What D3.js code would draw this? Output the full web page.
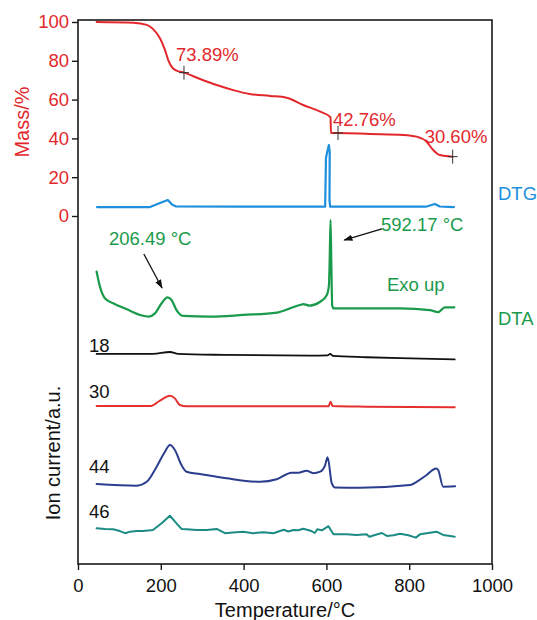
<!DOCTYPE html>
<html>
<head>
<meta charset="utf-8">
<script src="https://cdn.jsdelivr.net/npm/d3@7"></script>
<style>
  body { margin: 0; background: #fff; }
  svg { display: block; font-family: "Liberation Sans", Arial, Helvetica, sans-serif; }
</style>
</head>
<body>
<svg id="chart" width="537" height="620"></svg>
<script>
// ---- TG (mass loss) ----
const massT = [45, 134, 166, 182, 198, 210, 218, 226, 238, 256, 295, 335, 375, 415, 464, 504, 544, 585, 610, 611, 628, 705, 786, 818, 842, 858, 874, 905];
const massV = [100, 99.6, 98.5, 96.2, 91.6, 85.6, 80.4, 77.0, 74.9, 73.89, 70.6, 67.5, 64.9, 62.9, 61.9, 61.0, 57.2, 53.8, 50.9, 42.76, 42.76, 42.3, 41.8, 40.9, 38.3, 34.0, 31.4, 30.60];

// residual-mass readings marked on the TG curve
const stepT = [256, 628, 905];
const stepV = [73.89, 42.76, 30.60];

// ---- DTG ----
const dtgT = [46, 174, 198, 217, 227, 237, 400, 597, 599, 602, 606, 608, 607.5, 609, 640, 840, 862, 874, 908];
const dtgV = [4.6, 4.6, 6.7, 8.2, 5.9, 4.9, 4.8, 4.8, 30, 33, 36.6, 33, 8, 4.8, 4.8, 4.8, 6.2, 4.9, 4.6];

// ---- DTA (a.u., exo up) ----
const dtaT = [45, 53, 65, 85, 118, 150, 170, 186, 202, 216, 226, 238, 254, 319, 399, 480, 512, 536, 544, 560, 585, 601, 606, 608, 610, 612, 614, 617, 697, 778, 850, 870, 886, 909];
const dtaV = [21.3, 13.6, 7.6, 5.0, 1.9, -1.0, -1.9, -0.2, 5.0, 8.1, 6.7, 1.5, -1.5, -1.9, -1.0, 0.2, 2.4, 4.1, 4.6, 3.8, 5.8, 9.3, 14, 28, 47.9, 25, 4, 2.4, 2.4, 2.4, 1.5, 0.4, 2.9, 2.9];
const dtaPeaks = [206.49, 592.17];

// ---- MS ion currents (a.u.) ----
const ion18T = [45, 181, 222, 242, 359, 560, 603, 609, 616, 697, 778, 910];
const ion18V = [0.9, 0.9, 1.9, 0.9, 0.4, 0, 0.2, 0.9, -0.15, -0.8, -1.3, -1.9];

const ion30T = [45, 174, 198, 222, 234, 246, 262, 560, 605, 610, 615, 697, 910];
const ion30V = [0, 0, 2.8, 5.4, 4.0, 0.6, -0.1, -0.1, -0.1, 2.3, 0, -0.3, -0.6];

const ion44T = [45, 142, 166, 190, 210, 222, 234, 250, 262, 295, 359, 440, 480, 516, 532, 552, 568, 585, 597, 603, 613, 621, 681, 802, 818, 842, 865, 870, 882, 911];
const ion44V = [-0.15, -1.0, 1.0, 8.8, 16.5, 19.9, 17.4, 9.6, 6.2, 5.0, 2.8, 1.0, 2.3, 5.7, 5.7, 6.7, 5.4, 6.2, 9.6, 13.6, 0.2, -1.9, -2.1, -0.7, 1.0, 4.5, 7.9, 7.1, -1.5, -1.3];

const ion46T = [45, 65, 85, 101, 114, 126, 142, 157, 181, 202, 222, 238, 250, 262, 287, 311, 335, 355, 374, 399, 423, 448, 472, 497, 508, 520, 532, 544, 564, 572, 578, 589, 605, 617, 649, 673, 697, 704, 717, 734, 746, 762, 778, 798, 816, 826, 842, 866, 882, 899, 910];
const ion46V = [1.0, 0.7, 0.5, -0.4, -1.5, -0.7, -0.4, -0.4, 0.15, 3.6, 7.5, 3.6, 0.7, 0.5, 0.15, 0.15, 0.7, -1.5, -1.2, -0.7, -1.5, -1.0, -1.5, 0.3, -0.6, 0.15, 0, 0.8, -0.4, -1.4, 0.5, 0, 2.1, -2.1, -2.1, -2.4, -2.1, -3.3, -2.4, -1.4, -2.9, -2.6, -1.8, -2.6, -3.8, -2.1, -1.5, -0.7, -2.4, -2.9, -3.3];

// baselines of the stacked traces, in Mass/% units below the TG axis
const ionNames = ["18", "30", "44", "46"];
const ionOffsets = [-72, -98, -138, -162];
const dtaOffset = -50;

// axis ticks
const xMajor = d3.range(0, 1001, 200);
const xMinor = d3.range(0, 1001, 50);
const yMajor = d3.range(0, 101, 20);
const yMinor = d3.range(0, 101, 5);

const colors = {
  mass: "#e2282c",
  dtg: "#1d8fdc",
  dta: "#1a9a4b",
  ion: ["#111111", "#e5302f", "#2b3d8e", "#1b8b84"]
};

const svg = d3.select("#chart");
const plotL = 78, plotR = 492, plotT = 20, plotB = 564;

const x = d3.scaleLinear().domain([0, 1000]).range([plotL, plotR]);
const y = d3.scaleLinear().domain([0, 100]).range([216, 22]);

const zip = (T, V, off = 0) => T.map((t, i) => [t, V[i] + off]);
const smooth = d3.line().x(d => x(d[0])).y(d => y(d[1])).curve(d3.curveMonotoneX);
const straight = d3.line().x(d => x(d[0])).y(d => y(d[1]));

function trace(points, color, gen, width = 2) {
  svg.append("path")
    .attr("d", gen(points))
    .attr("fill", "none")
    .attr("stroke", color)
    .attr("stroke-width", width)
    .attr("stroke-linejoin", "round")
    .attr("stroke-linecap", "round");
}

// frame
svg.append("rect")
  .attr("x", plotL).attr("y", plotT)
  .attr("width", plotR - plotL).attr("height", plotB - plotT)
  .attr("fill", "none").attr("stroke", "#1a1a1a").attr("stroke-width", 1.6);

// bottom axis
const gx = svg.append("g").attr("transform", `translate(0,${plotB})`);
gx.call(d3.axisBottom(x).tickValues(xMinor).tickSize(3).tickFormat(""));
gx.call(d3.axisBottom(x).tickValues(xMajor).tickSize(6).tickPadding(9).tickFormat(d3.format("d")));
gx.selectAll(".domain").remove();
gx.selectAll("line").attr("stroke", "#1a1a1a").attr("stroke-width", 1.4);
gx.selectAll("text").attr("font-size", 18.5).attr("fill", "#111")
  .attr("font-family", "Liberation Sans, Arial, sans-serif");

svg.append("text")
  .attr("x", (plotL + plotR) / 2).attr("y", 617)
  .attr("text-anchor", "middle").attr("font-size", 20).attr("fill", "#111")
  .text("Temperature/°C");

// left (mass) axis
const gy = svg.append("g").attr("transform", `translate(${plotL},0)`);
gy.call(d3.axisLeft(y).tickValues(yMinor).tickSize(3).tickFormat(""));
gy.call(d3.axisLeft(y).tickValues(yMajor).tickSize(6).tickPadding(3).tickFormat(d3.format("d")));
gy.selectAll(".domain").remove();
gy.selectAll("line").attr("stroke", "#1a1a1a").attr("stroke-width", 1.4);
gy.selectAll("text").attr("font-size", 18.5).attr("fill", colors.mass)
  .attr("font-family", "Liberation Sans, Arial, sans-serif");

svg.append("text")
  .attr("transform", `translate(29,122) rotate(-90)`)
  .attr("text-anchor", "middle").attr("font-size", 20).attr("fill", colors.mass)
  .text("Mass/%");

svg.append("text")
  .attr("transform", `translate(60,453) rotate(-90)`)
  .attr("text-anchor", "middle").attr("font-size", 20).attr("fill", "#111")
  .text("Ion current/a.u.");

// TG curve
trace(zip(massT, massV), colors.mass, smooth);

// step markers and labels
const labelShift = [[-8, -12], [-5, -7], [-28, -14]];
stepT.forEach((t, i) => {
  const cx = x(t), cy = y(stepV[i]);
  svg.append("path")
    .attr("d", `M${cx - 5},${cy}H${cx + 5}M${cx},${cy - 7}V${cy + 7}`)
    .attr("stroke", "#333").attr("stroke-width", 1);
  svg.append("text")
    .attr("x", cx + labelShift[i][0]).attr("y", cy + labelShift[i][1])
    .attr("font-size", 18.5).attr("fill", colors.mass)
    .text(stepV[i].toFixed(2) + "%");
});

// DTG
trace(zip(dtgT, dtgV), colors.dtg, straight, 2.2);
svg.append("text").attr("x", 498).attr("y", 200)
  .attr("font-size", 18.5).attr("fill", colors.dtg).text("DTG");

// DTA
trace(zip(dtaT, dtaV, dtaOffset), colors.dta, smooth, 2.2);
svg.append("text").attr("x", 498).attr("y", 325)
  .attr("font-size", 18.5).attr("fill", colors.dta).text("DTA");
svg.append("text").attr("x", 387).attr("y", 291)
  .attr("font-size", 18.5).attr("fill", colors.dta).text("Exo up");

// DTA peak annotations: arrow from label towards the peak
svg.append("defs").append("marker")
  .attr("id", "head").attr("viewBox", "0 0 10 10")
  .attr("refX", 9).attr("refY", 5)
  .attr("markerWidth", 7).attr("markerHeight", 7)
  .attr("orient", "auto-start-reverse")
  .append("path").attr("d", "M0,1.5L10,5L0,8.5Z").attr("fill", "#111");

const peakNotes = [
  { text: dtaPeaks[0].toFixed(2) + " °C", tx: 109, ty: 245, from: [159, dtaOffset + 30.4], to: [203, dtaOffset + 12.9] },
  { text: dtaPeaks[1].toFixed(2) + " °C", tx: 381, ty: 231, from: [734, dtaOffset + 43.3], to: [643, dtaOffset + 37.6] }
];
peakNotes.forEach(n => {
  svg.append("line")
    .attr("x1", x(n.from[0])).attr("y1", y(n.from[1]))
    .attr("x2", x(n.to[0])).attr("y2", y(n.to[1]))
    .attr("stroke", "#111").attr("stroke-width", 1.3)
    .attr("marker-end", "url(#head)");
  svg.append("text").attr("x", n.tx).attr("y", n.ty)
    .attr("font-size", 18.5).attr("fill", colors.dta).text(n.text);
});

// MS ion current traces
const ionData = [
  zip(ion18T, ion18V, ionOffsets[0]),
  zip(ion30T, ion30V, ionOffsets[1]),
  zip(ion44T, ion44V, ionOffsets[2]),
  zip(ion46T, ion46V, ionOffsets[3])
];
const ionLabelY = [352, 398, 473, 518];
ionData.forEach((pts, i) => {
  trace(pts, colors.ion[i], i === 3 ? straight : smooth, i === 0 ? 1.8 : 2);
  svg.append("text").attr("x", 89).attr("y", ionLabelY[i])
    .attr("font-size", 18.5).attr("fill", "#111").text(ionNames[i]);
});
</script>
</body>
</html>
